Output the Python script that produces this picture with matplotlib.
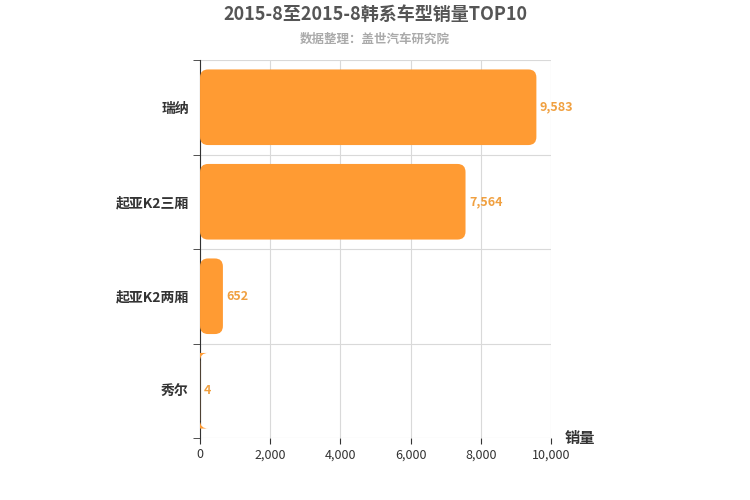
import matplotlib
matplotlib.use("Agg")
import matplotlib.pyplot as plt
from matplotlib.patches import FancyBboxPatch

plt.rcParams['font.family'] = ['Noto Sans CJK SC', 'DejaVu Sans']

categories = ['瑞纳', '起亚K2三厢', '起亚K2两厢', '秀尔']
values = [9583, 7564, 652, 4]
xticks = [0, 2000, 4000, 6000, 8000, 10000]

fig = plt.figure(figsize=(7.5, 5), dpi=100)
ax = fig.add_axes([0.2667, 0.124, 0.468, 0.756])
n = len(categories)
ys = list(range(n))[::-1]
bars = ax.barh(ys, values, height=0.8, color='none')
ax.set_xlim(0, 10000)
ax.set_ylim(-0.5, n - 0.5)
for b in bars:
    x, y, w, h = b.get_x(), b.get_y(), b.get_width(), b.get_height()
    p = FancyBboxPatch((x, y), w, h, boxstyle='round,pad=0,rounding_size=230',
                       mutation_aspect=0.085 / 230, fc='#ff9b33', ec='none', zorder=3)
    ax.add_patch(p)
for yv, v in zip(ys, values):
    ax.text(v + 100, yv, f'{v:,}', va='center', ha='left', fontsize=9,
            fontweight='bold', color='#f0a040')
ax.set_yticks(ys)
ax.set_yticklabels(categories, fontsize=10, fontweight='bold', color='#333333')
ax.set_yticks([i - 0.5 for i in range(n + 1)], minor=True)
ax.tick_params(axis='y', which='major', length=0, pad=8)
ax.tick_params(axis='y', which='minor', length=5, color='#333333')
ax.set_xticks(xticks)
ax.set_xticklabels([f'{t:,}' for t in xticks], fontsize=9, color='#333333')
ax.tick_params(axis='x', length=4, color='#333333')
ax.grid(axis='x', color='#d9d9d9', lw=0.8, zorder=0)
ax.grid(axis='y', which='minor', color='#d9d9d9', lw=0.8, zorder=0)
ax.set_axisbelow(True)
for s in ['top', 'right']:
    ax.spines[s].set_visible(False)
ax.spines['bottom'].set_visible(False)
ax.spines['left'].set_color('#333333')
ax.text(1.04, 0.0, '销量', transform=ax.transAxes, fontsize=11, fontweight='bold',
        color='#333333', ha='left', va='center')
fig.text(0.5, 0.972, '2015-8至2015-8韩系车型销量TOP10', ha='center', va='center',
         fontsize=13, fontweight='bold', color='#555555')
fig.text(0.5, 0.922, '数据整理：盖世汽车研究院', ha='center', va='center',
         fontsize=9, fontweight='bold', color='#aaaaaa')
fig.savefig('out.png', dpi=100)
